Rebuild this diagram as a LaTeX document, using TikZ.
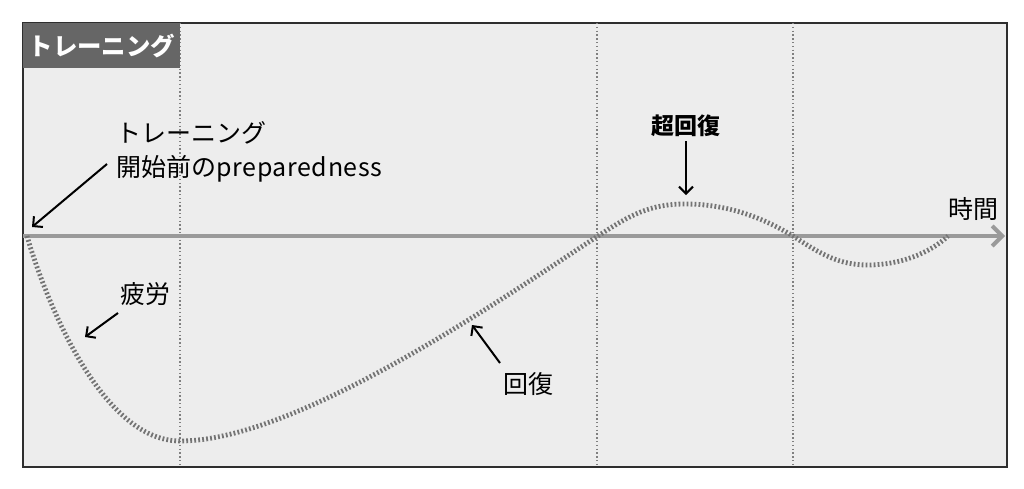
\documentclass[tikz,border=0pt]{standalone}
\usepackage{fontspec}
\setmainfont{Noto Sans CJK JP}
\usetikzlibrary{arrows.meta}
\definecolor{bgpanel}{HTML}{EDEDED}
\definecolor{framec}{HTML}{2E2E2E}
\definecolor{titlegray}{HTML}{666666}
\definecolor{axisgray}{HTML}{9A9A9A}
\definecolor{curvegray}{HTML}{747474}
\definecolor{vgray}{HTML}{808080}
\tikzset{
  panel/.style={fill=bgpanel, draw=framec, line width=1.3pt},
  titlebox/.style={fill=titlegray, text=white, inner sep=0pt, minimum width=78.5pt, minimum height=22.5pt, anchor=north west, font=\fontsize{12.2}{14}\selectfont\bfseries},
  vline/.style={draw=vgray, line width=0.6pt, dash pattern=on 0.7pt off 1.2pt},
  axisline/.style={draw=axisgray, line width=2pt, -{Straight Barb[length=5pt,width=10pt]}},
  curveline/.style={draw=curvegray, line width=2.4pt, dash pattern=on 0.9pt off 1.1pt},
  lbl/.style={inner sep=0pt, font=\fontsize{12.5}{17}\selectfont},
  boldlbl/.style={inner sep=0pt, font=\fontsize{11.5}{14}\selectfont\bfseries},
  pointer/.style={draw=black, line width=1pt, -{Straight Barb[length=3.5pt,width=7pt]}}
}
\begin{document}
\begin{tikzpicture}[x=0.5pt,y=-0.5pt]
\useasboundingbox (0,0) rectangle (1024,488);
\fill[white] (0,0) rectangle (1024,488);
\draw[panel] (23,23) rectangle (1007,467);
% vertical dotted guides
\draw[vline] (180,23) -- (180,467);
\draw[vline] (597,23) -- (597,467);
\draw[vline] (793,23) -- (793,467);
% title
\node[titlebox] (title) at (23,23) {トレーニング};
% axis
\coordinate (ax0) at (23,236);
\coordinate (ax1) at (1005,236);
\draw[axisline] (ax0) -- (ax1);
% curve
\coordinate (c0) at (27,236);
\coordinate (c1) at (180,441);
\coordinate (c2) at (598,236);
\coordinate (c3) at (685,204);
\coordinate (c4) at (793,236);
\coordinate (c5) at (868,265);
\coordinate (c6) at (948,236);
\draw[curveline] (c0) .. controls (44,295) and (100,441) .. (c1)
  .. controls (300,441) and (510,293) .. (c2)
  .. controls (630,215) and (650,204) .. (c3)
  .. controls (725,204) and (760,216) .. (c4)
  .. controls (822,255) and (840,265) .. (c5)
  .. controls (900,265) and (930,253) .. (c6);
% labels
\node[lbl, anchor=north west, align=left] (prep) at (116,121) {トレーニング\\開始前の\addfontfeatures{LetterSpace=2.5}preparedness};
\node[lbl] (fatigue) at (145,294) {疲労};
\node[lbl] (recov) at (528,384) {回復};
\node[boldlbl] (super) at (686,126) {超回復};
\node[lbl] (time) at (973,209) {時間};
% pointers
\coordinate (p1s) at (107,164);
\coordinate (p1e) at (32,227);
\coordinate (p2s) at (118,313);
\coordinate (p2e) at (85,337);
\coordinate (p3s) at (500,363);
\coordinate (p3e) at (472,325);
\coordinate (p4e) at (686,195);
\draw[pointer] (p1s) -- (p1e);
\draw[pointer] (p2s) -- (p2e);
\draw[pointer] (p3s) -- (p3e);
\draw[pointer] ([yshift=-2pt]super.south) -- (p4e);
\end{tikzpicture}
\end{document}
